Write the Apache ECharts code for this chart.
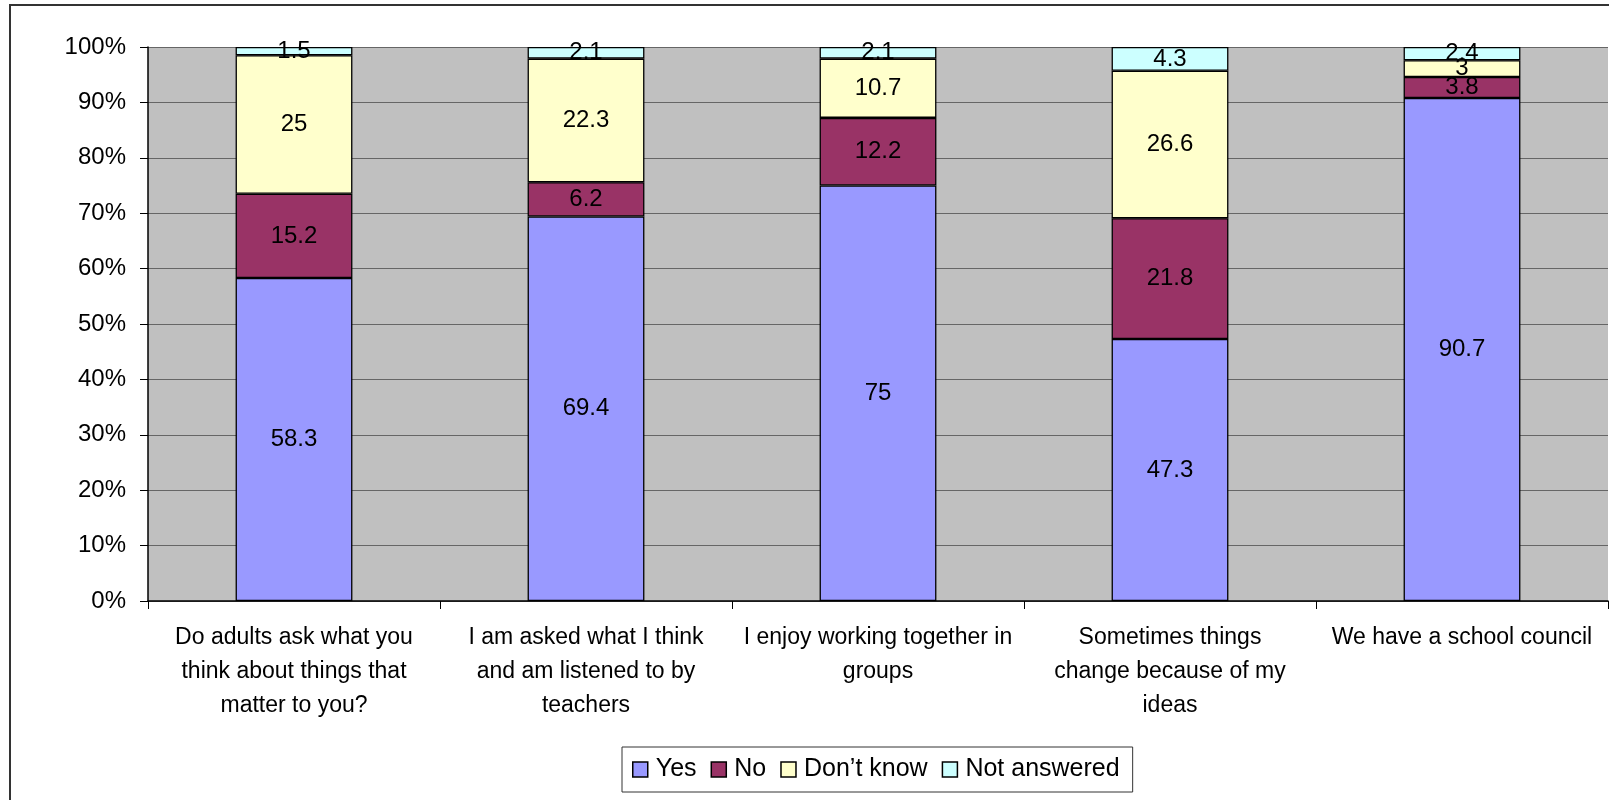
<!DOCTYPE html>
<html>
<head>
<meta charset="utf-8">
<script src="https://cdn.jsdelivr.net/npm/echarts@6/dist/echarts.min.js"></script>
<style>
  html, body { margin: 0; padding: 0; background: #fff; }
  #main { width: 1609px; height: 800px; }
</style>
</head>
<body>
<div id="main"></div>
<script>
// categories as shown on the x axis (line breaks as in the original)
const categories = [
    'Do adults ask what you\nthink about things that\nmatter to you?',
    'I am asked what I think\nand am listened to by\nteachers',
    'I enjoy working together in\ngroups',
    'Sometimes things\nchange because of my\nideas',
    'We have a school council'
];
const seriesNames = ['Yes', 'No', 'Don\u2019t know', 'Not answered'];
const yesVals = [58.3, 69.4, 75, 47.3, 90.7];
const noVals = [15.2, 6.2, 12.2, 21.8, 3.8];
const dontKnowVals = [25, 22.3, 10.7, 26.6, 3];
const notAnsweredVals = [1.5, 2.1, 2.1, 4.3, 2.4];
const colors = ['#9999FF', '#993366', '#FFFFCC', '#CCFFFF'];
const yTicks = [0, 10, 20, 30, 40, 50, 60, 70, 80, 90, 100];

const raw = [yesVals, noVals, dontKnowVals, notAnsweredVals];
// 100% stacked: each column scaled to its own total
const totals = categories.map((c, i) => raw.reduce((s, arr) => s + arr[i], 0));

const font = 'Liberation Sans, Arial, sans-serif';

const series = raw.map((vals, k) => {
    return {
        name: seriesNames[k],
        type: 'bar',
        stack: 'all',
        barWidth: '40%',
        data: vals.map((v, i) => ({ value: v / totals[i] * 100, raw: v })),
        itemStyle: { color: colors[k], borderColor: '#000', borderWidth: 1.3 },
        label: {
            show: true,
            position: 'inside',
            color: '#000',
            fontSize: 24,
            fontFamily: font,
            formatter: p => String(p.data.raw)
        }
    };
});

const chart = echarts.init(document.getElementById('main'));
chart.setOption({
    animation: false,
    color: colors,
    textStyle: { fontFamily: font },
    graphic: [{
        type: 'rect',
        silent: true,
        z: -10,
        shape: { x: 10, y: 5, width: 1700, height: 900 },
        style: { fill: 'none', stroke: '#333', lineWidth: 2 }
    }],
    grid: {
        left: 148, top: 47, right: 1, bottom: 199,
        show: true, backgroundColor: '#C0C0C0', borderWidth: 0
    },
    legend: {
        data: seriesNames,
        left: 622,
        top: 747,
        padding: [10, 13, 10, 10],
        borderColor: '#333',
        borderWidth: 1,
        backgroundColor: '#fff',
        itemWidth: 15,
        itemHeight: 15,
        itemGap: 14,
        icon: 'rect',
        itemStyle: { borderColor: '#000', borderWidth: 1.5 },
        textStyle: { fontSize: 25, color: '#000', fontFamily: font, padding: [2, 0, 0, 3] }
    },
    xAxis: {
        type: 'category',
        data: categories,
        axisLine: { lineStyle: { color: '#000', width: 1.5 } },
        axisTick: { show: true, length: 8, lineStyle: { color: '#000' } },
        axisLabel: {
            interval: 0,
            color: '#000',
            fontSize: 23,
            fontFamily: font,
            lineHeight: 34,
            margin: 20
        }
    },
    yAxis: {
        type: 'value',
        min: yTicks[0],
        max: yTicks[yTicks.length - 1],
        interval: 10,
        axisLine: { show: true, lineStyle: { color: '#000', width: 1.5 } },
        axisTick: { show: true, length: 8, lineStyle: { color: '#000' } },
        axisLabel: {
            color: '#000',
            fontSize: 24,
            fontFamily: font,
            margin: 22,
            formatter: '{value}%'
        },
        splitLine: { lineStyle: { color: '#666', width: 1 } }
    },
    series: series
});
</script>
</body>
</html>
